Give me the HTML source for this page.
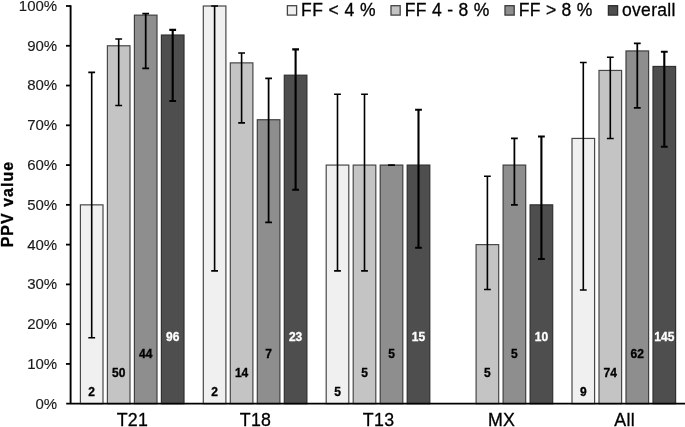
<!DOCTYPE html>
<html lang="en"><head><meta charset="utf-8"><title>PPV value by fetal fraction</title>
<style>html,body{margin:0;padding:0;background:#fff;}body{width:685px;height:427px;overflow:hidden;}svg{display:block;}text{font-family:"Liberation Sans",Arial,Helvetica,sans-serif;fill:#000;stroke:#000;stroke-width:0.3px;}.tk{font-size:15px;text-anchor:end;fill:#1c1c1c;stroke-width:0.12px;}.cat{font-size:17.8px;text-anchor:middle;letter-spacing:0.3px;}.lg{font-size:17.5px;}.dl{font-size:12px;font-weight:bold;text-anchor:middle;}.w{fill:#fff;stroke:#fff;}</style></head><body>
<svg width="685" height="427" viewBox="0 0 685 427">
<rect width="685" height="427" fill="#fff"/>
<defs><filter id="soft" x="0" y="0" width="100%" height="100%" filterUnits="userSpaceOnUse" color-interpolation-filters="sRGB"><feGaussianBlur stdDeviation="0.45"/></filter></defs><g filter="url(#soft)">
<rect width="685" height="427" fill="#fff"/>
<rect x="80.40" y="204.85" width="22.60" height="198.85" fill="#f0f0f0" stroke="#484848" stroke-width="1.2"/>
<rect x="107.40" y="45.77" width="22.60" height="357.93" fill="#c4c4c4" stroke="#484848" stroke-width="1.2"/>
<rect x="134.40" y="15.15" width="22.60" height="388.55" fill="#8e8e8e" stroke="#404040" stroke-width="1.2"/>
<rect x="161.40" y="35.03" width="22.60" height="368.67" fill="#4e4e4e" stroke="#303030" stroke-width="1.2"/>
<rect x="203.30" y="6.00" width="22.60" height="397.70" fill="#f0f0f0" stroke="#484848" stroke-width="1.2"/>
<rect x="230.30" y="62.87" width="22.60" height="340.83" fill="#c4c4c4" stroke="#484848" stroke-width="1.2"/>
<rect x="257.30" y="119.74" width="22.60" height="283.96" fill="#8e8e8e" stroke="#404040" stroke-width="1.2"/>
<rect x="284.30" y="75.20" width="22.60" height="328.50" fill="#4e4e4e" stroke="#303030" stroke-width="1.2"/>
<rect x="326.20" y="165.08" width="22.60" height="238.62" fill="#f0f0f0" stroke="#484848" stroke-width="1.2"/>
<rect x="353.20" y="165.08" width="22.60" height="238.62" fill="#c4c4c4" stroke="#484848" stroke-width="1.2"/>
<rect x="380.20" y="165.08" width="22.60" height="238.62" fill="#8e8e8e" stroke="#404040" stroke-width="1.2"/>
<rect x="407.20" y="165.08" width="22.60" height="238.62" fill="#4e4e4e" stroke="#303030" stroke-width="1.2"/>
<rect x="476.10" y="244.62" width="22.60" height="159.08" fill="#c4c4c4" stroke="#484848" stroke-width="1.2"/>
<rect x="503.10" y="165.08" width="22.60" height="238.62" fill="#8e8e8e" stroke="#404040" stroke-width="1.2"/>
<rect x="530.10" y="204.85" width="22.60" height="198.85" fill="#4e4e4e" stroke="#303030" stroke-width="1.2"/>
<rect x="572.00" y="138.43" width="22.60" height="265.27" fill="#f0f0f0" stroke="#484848" stroke-width="1.2"/>
<rect x="599.00" y="70.43" width="22.60" height="333.27" fill="#c4c4c4" stroke="#484848" stroke-width="1.2"/>
<rect x="626.00" y="50.94" width="22.60" height="352.76" fill="#8e8e8e" stroke="#404040" stroke-width="1.2"/>
<rect x="653.00" y="66.45" width="22.60" height="337.25" fill="#4e4e4e" stroke="#303030" stroke-width="1.2"/>
<path d="M91.70 337.68V72.42M88.30 72.42h6.8M88.30 337.68h6.8" fill="none" stroke="#000" stroke-width="1.6"/>
<path d="M118.70 105.43V39.01M115.30 39.01h6.8M115.30 105.43h6.8" fill="none" stroke="#000" stroke-width="1.6"/>
<path d="M145.70 68.44V13.56M142.30 13.56h6.8M142.30 68.44h6.8" fill="none" stroke="#000" stroke-width="1.75"/>
<path d="M172.70 101.05V29.86M169.30 29.86h6.8M169.30 101.05h6.8" fill="none" stroke="#000" stroke-width="2.1"/>
<path d="M214.60 270.87V6.00M211.20 6.00h6.8M211.20 270.87h6.8" fill="none" stroke="#000" stroke-width="1.6"/>
<path d="M241.60 122.92V52.93M238.20 52.93h6.8M238.20 122.92h6.8" fill="none" stroke="#000" stroke-width="1.6"/>
<path d="M268.60 222.35V78.38M265.20 78.38h6.8M265.20 222.35h6.8" fill="none" stroke="#000" stroke-width="1.75"/>
<path d="M295.60 189.74V49.35M292.20 49.35h6.8M292.20 189.74h6.8" fill="none" stroke="#000" stroke-width="2.1"/>
<path d="M337.50 270.87V94.29M334.10 94.29h6.8M334.10 270.87h6.8" fill="none" stroke="#000" stroke-width="1.6"/>
<path d="M364.50 270.87V94.29M361.10 94.29h6.8M361.10 270.87h6.8" fill="none" stroke="#000" stroke-width="1.6"/>
<path d="M391.50 165.08V165.08M388.10 165.08h6.8M388.10 165.08h6.8" fill="none" stroke="#000" stroke-width="1.75"/>
<path d="M418.50 247.80V109.80M415.10 109.80h6.8M415.10 247.80h6.8" fill="none" stroke="#000" stroke-width="2.1"/>
<path d="M487.40 289.56V176.22M484.00 176.22h6.8M484.00 289.56h6.8" fill="none" stroke="#000" stroke-width="1.6"/>
<path d="M514.40 204.85V138.43M511.00 138.43h6.8M511.00 204.85h6.8" fill="none" stroke="#000" stroke-width="1.75"/>
<path d="M541.40 258.94V136.45M538.00 136.45h6.8M538.00 258.94h6.8" fill="none" stroke="#000" stroke-width="2.1"/>
<path d="M583.30 289.96V62.47M579.90 62.47h6.8M579.90 289.96h6.8" fill="none" stroke="#000" stroke-width="1.6"/>
<path d="M610.30 138.43V57.30M606.90 57.30h6.8M606.90 138.43h6.8" fill="none" stroke="#000" stroke-width="1.6"/>
<path d="M637.30 107.81V43.38M633.90 43.38h6.8M633.90 107.81h6.8" fill="none" stroke="#000" stroke-width="1.75"/>
<path d="M664.30 146.79V51.74M660.90 51.74h6.8M660.90 146.79h6.8" fill="none" stroke="#000" stroke-width="2.1"/>
<path d="M70.6 5.25V403.7" stroke="#000" stroke-width="1.9" fill="none"/>
<path d="M66.2 403.7H685" stroke="#000" stroke-width="1.8" fill="none"/>
<path d="M66 363.93H70.6" stroke="#000" stroke-width="1.8" fill="none"/>
<path d="M66 324.16H70.6" stroke="#000" stroke-width="1.8" fill="none"/>
<path d="M66 284.39H70.6" stroke="#000" stroke-width="1.8" fill="none"/>
<path d="M66 244.62H70.6" stroke="#000" stroke-width="1.8" fill="none"/>
<path d="M66 204.85H70.6" stroke="#000" stroke-width="1.8" fill="none"/>
<path d="M66 165.08H70.6" stroke="#000" stroke-width="1.8" fill="none"/>
<path d="M66 125.31H70.6" stroke="#000" stroke-width="1.8" fill="none"/>
<path d="M66 85.54H70.6" stroke="#000" stroke-width="1.8" fill="none"/>
<path d="M66 45.77H70.6" stroke="#000" stroke-width="1.8" fill="none"/>
<path d="M66 6.00H70.6" stroke="#000" stroke-width="1.8" fill="none"/>
<text class="tk" x="57.2" y="408.60">0%</text>
<text class="tk" x="57.2" y="368.83">10%</text>
<text class="tk" x="57.2" y="329.06">20%</text>
<text class="tk" x="57.2" y="289.29">30%</text>
<text class="tk" x="57.2" y="249.52">40%</text>
<text class="tk" x="57.2" y="209.75">50%</text>
<text class="tk" x="57.2" y="169.98">60%</text>
<text class="tk" x="57.2" y="130.21">70%</text>
<text class="tk" x="57.2" y="90.44">80%</text>
<text class="tk" x="57.2" y="50.67">90%</text>
<text class="tk" x="57.2" y="10.90">100%</text>
<text transform="translate(12.5 204.6) rotate(-90)" font-size="16px" font-weight="bold" text-anchor="middle" textLength="85.5" lengthAdjust="spacing">PPV value</text>
<text class="cat" x="132.47" y="426.0">T21</text>
<text class="cat" x="255.53" y="426.0">T18</text>
<text class="cat" x="378.57" y="426.0">T13</text>
<text class="cat" x="501.62" y="426.0">MX</text>
<text class="cat" x="624.67" y="426.0">All</text>
<text class="dl" x="91.70" y="396.0">2</text>
<text class="dl" x="118.70" y="376.7">50</text>
<text class="dl" x="145.70" y="357.8">44</text>
<text class="dl w" x="172.70" y="340.6">96</text>
<text class="dl" x="214.60" y="396.0">2</text>
<text class="dl" x="241.60" y="376.7">14</text>
<text class="dl" x="268.60" y="357.8">7</text>
<text class="dl w" x="295.60" y="340.6">23</text>
<text class="dl" x="337.50" y="396.0">5</text>
<text class="dl" x="364.50" y="376.7">5</text>
<text class="dl" x="391.50" y="357.8">5</text>
<text class="dl w" x="418.50" y="340.6">15</text>
<text class="dl" x="487.40" y="376.7">5</text>
<text class="dl" x="514.40" y="357.8">5</text>
<text class="dl w" x="541.40" y="340.6">10</text>
<text class="dl" x="583.30" y="396.0">9</text>
<text class="dl" x="610.30" y="376.7">74</text>
<text class="dl" x="637.30" y="357.8">62</text>
<text class="dl w" x="664.30" y="340.6">145</text>
<rect x="287.4" y="5.7" width="9.2" height="9.4" fill="#f0f0f0" stroke="#444" stroke-width="1.3"/>
<text class="lg" x="301.0" y="16.1" textLength="74.6" lengthAdjust="spacing">FF &lt; 4 %</text>
<rect x="391.0" y="5.7" width="9.2" height="9.4" fill="#c4c4c4" stroke="#444" stroke-width="1.3"/>
<text class="lg" x="404.8" y="16.1" textLength="84.6" lengthAdjust="spacing">FF 4 - 8 %</text>
<rect x="505.0" y="5.7" width="9.2" height="9.4" fill="#8e8e8e" stroke="#3c3c3c" stroke-width="1.3"/>
<text class="lg" x="518.7" y="16.1" textLength="73.7" lengthAdjust="spacing">FF &gt; 8 %</text>
<rect x="608.4" y="5.7" width="9.2" height="9.4" fill="#4e4e4e" stroke="#2c2c2c" stroke-width="1.3"/>
<text class="lg" x="622.0" y="16.1" textLength="53.4" lengthAdjust="spacing">overall</text>
</g></svg></body></html>
